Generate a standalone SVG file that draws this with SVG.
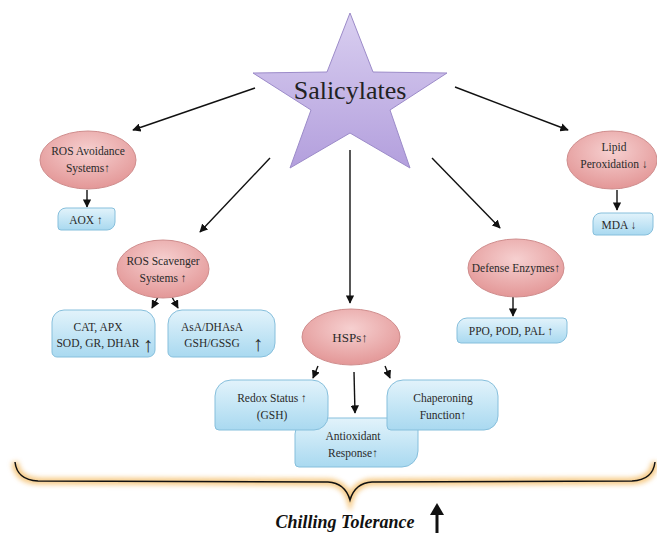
<svg xmlns="http://www.w3.org/2000/svg" width="657" height="533" viewBox="0 0 657 533">
<defs>
<linearGradient id="gBox" x1="0" y1="0" x2="0" y2="1"><stop offset="0" stop-color="#e2f3fb"/><stop offset="1" stop-color="#a9d9f0"/></linearGradient>
<radialGradient id="gEll" cx="0.5" cy="0.35" r="0.65"><stop offset="0" stop-color="#f6d0d0"/><stop offset="1" stop-color="#e39797"/></radialGradient>
<linearGradient id="gStar" x1="0" y1="0" x2="0" y2="1"><stop offset="0" stop-color="#d9cff0"/><stop offset="1" stop-color="#b39fdd"/></linearGradient>
<marker id="ah" viewBox="0 0 10 10" refX="9" refY="5" markerWidth="6" markerHeight="6" orient="auto"><path d="M0,0 L10,5 L0,10 Z" fill="#111"/></marker>
<filter id="glow" x="-5%" y="-50%" width="110%" height="200%"><feGaussianBlur stdDeviation="2.5"/></filter>
</defs>
<style>
.box{fill:url(#gBox);stroke:#86bfdc;stroke-width:1}
.ell{fill:url(#gEll);stroke:#cf8d8d;stroke-width:1}
.t{font-family:"Liberation Serif","DejaVu Serif",serif;font-size:11.5px;fill:#2a2a2a;text-anchor:middle}
.big{font-size:21px}
.con{stroke:#111;stroke-width:1.4;fill:none;marker-end:url(#ah)}
</style>
<rect width="657" height="533" fill="#fff"/>

<g id="connectors">
<line class="con" x1="255" y1="88" x2="133" y2="130"/>
<line class="con" x1="455" y1="87" x2="568" y2="130"/>
<line class="con" x1="270" y1="158" x2="200" y2="232"/>
<line class="con" x1="432" y1="158" x2="500" y2="228"/>
<line class="con" x1="350" y1="150" x2="350" y2="303"/>
<line class="con" x1="87" y1="190" x2="87" y2="207"/>
<line class="con" x1="617" y1="190" x2="617" y2="210"/>
<line class="con" x1="513" y1="297" x2="513" y2="316"/>
<line class="con" x1="158" y1="297" x2="152" y2="308"/>
<line class="con" x1="172" y1="297" x2="178" y2="308"/>
<line class="con" x1="318" y1="366" x2="313" y2="378"/>
<line class="con" x1="354" y1="372" x2="355" y2="413"/>
<line class="con" x1="385" y1="366" x2="390" y2="378"/>
</g>

<g id="salicylates">
<polygon points="350,13 373,72 447,73 390,110 410,168 350,133 290,168 311,110 253,73 327,72" fill="url(#gStar)" stroke="#9c8bc9" stroke-width="1"/>
<text class="t" x="350" y="99" style="font-size:26px;fill:#222">Salicylates</text>
</g>

<g id="ros-avoidance">
<ellipse class="ell" cx="88" cy="160" rx="48" ry="29"/>
<text class="t" x="88" y="155">ROS Avoidance</text>
<text class="t" x="88" y="172">Systems↑</text>
</g>
<g id="aox">
<path class="box" d="M68,208 H112 Q115,208 115,211 V222 A8,8 0 0 1 107,230 H61 Q58,230 58,227 V216 A8,8 0 0 1 66,208 Z"/>
<text class="t" x="86" y="224">AOX ↑</text>
</g>

<g id="ros-scavenger">
<ellipse class="ell" cx="163" cy="269" rx="46" ry="29"/>
<text class="t" x="163" y="265">ROS Scavenger</text>
<text class="t" x="163" y="282">Systems ↑</text>
</g>
<g id="cat-apx">
<path class="box" d="M64,310 H141 A14,14 0 0 1 155,324 V350 A7,7 0 0 1 148,357 H57 A5,5 0 0 1 52,352 V322 A12,12 0 0 1 64,310 Z"/>
<text class="t" x="98" y="331">CAT, APX</text>
<text class="t" x="98" y="347">SOD, GR, DHAR</text>
<text class="t big" x="148" y="352">↑</text>
</g>
<g id="asa-dhasa">
<path class="box" d="M182,310 H261 A14,14 0 0 1 275,324 V343 A14,14 0 0 1 261,357 H173 A5,5 0 0 1 168,352 V324 A14,14 0 0 1 182,310 Z"/>
<text class="t" x="212" y="331">AsA/DHAsA</text>
<text class="t" x="212" y="347">GSH/GSSG</text>
<text class="t big" x="258" y="351">↑</text>
</g>

<g id="lipid">
<ellipse class="ell" cx="612" cy="160" rx="45" ry="29"/>
<text class="t" x="614" y="151">Lipid</text>
<text class="t" x="614" y="168">Peroxidation ↓</text>
</g>
<g id="mda">
<path class="box" d="M601,213 H650 Q653,213 653,216 V227 A8,8 0 0 1 645,235 H596 Q593,235 593,232 V221 A8,8 0 0 1 601,213 Z"/>
<text class="t" x="619" y="229">MDA ↓</text>
</g>

<g id="defense">
<ellipse class="ell" cx="516" cy="268" rx="48" ry="29"/>
<text class="t" x="516" y="272">Defense Enzymes↑</text>
</g>
<g id="ppo">
<path class="box" d="M467,318 H563 Q567,318 567,322 V333 A10,10 0 0 1 557,343 H461 Q457,343 457,339 V328 A10,10 0 0 1 467,318 Z"/>
<text class="t" x="511" y="335">PPO, POD, PAL ↑</text>
</g>

<g id="hsps">
<ellipse class="ell" cx="351" cy="337" rx="49" ry="28"/>
<text class="t" x="350" y="342" style="font-size:13px">HSPs↑</text>
</g>
<g id="antioxidant">
<path class="box" d="M311,418 H414 Q418,418 418,422 V451 A16,16 0 0 1 402,467 H299 Q295,467 295,463 V434 A16,16 0 0 1 311,418 Z"/>
<text class="t" x="353" y="440">Antioxidant</text>
<text class="t" x="353" y="457">Response↑</text>
</g>
<g id="redox">
<path class="box" d="M231,380 H312 A16,16 0 0 1 328,396 V416 A14,14 0 0 1 314,430 H219 Q215,430 215,426 V396 A16,16 0 0 1 231,380 Z"/>
<text class="t" x="272" y="402">Redox Status ↑</text>
<text class="t" x="272" y="419">(GSH)</text>
</g>
<g id="chaperoning">
<path class="box" d="M403,380 H482 A16,16 0 0 1 498,396 V416 A14,14 0 0 1 484,430 H391 Q387,430 387,426 V396 A16,16 0 0 1 403,380 Z"/>
<text class="t" x="443" y="402">Chaperoning</text>
<text class="t" x="443" y="419">Function↑</text>
</g>

<g id="chilling-tolerance">
<path d="M15,462 Q17,480 38,481 L328,482 Q345,483 350,500 Q355,483 372,482 L632,481 Q653,480 655,462" fill="none" stroke="#f3b75a" stroke-width="7" opacity="0.75" filter="url(#glow)"/>
<path d="M15,462 Q17,480 38,481 L328,482 Q345,483 350,500 Q355,483 372,482 L632,481 Q653,480 655,462" fill="none" stroke="#111" stroke-width="1.5"/>
<text x="345" y="528" style="font-family:'Liberation Serif','DejaVu Serif',serif;font-size:18px;font-weight:bold;font-style:italic;fill:#111;text-anchor:middle">Chilling Tolerance</text>
<line x1="437" y1="533" x2="437" y2="512" stroke="#111" stroke-width="3"/>
<polygon points="437,503 430,515 444,515" fill="#111"/>
</g>
</svg>
